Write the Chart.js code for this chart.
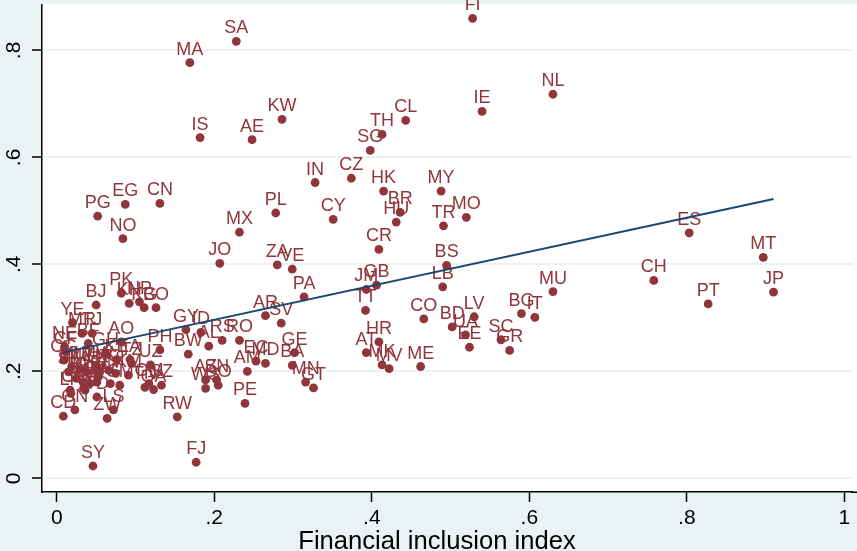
<!DOCTYPE html>
<html>
<head>
<meta charset="utf-8">
<script src="https://cdn.jsdelivr.net/npm/chart.js@4/dist/chart.umd.min.js"></script>
<style>
  html, body { margin: 0; padding: 0; background: #eaf2f3; }
  #wrap { width: 857px; height: 551px; }
</style>
</head>
<body>
<div id="wrap"><canvas id="c" width="857" height="551"></canvas></div>
<script>
// Country codes with financial inclusion index (x) and outcome (y)
const countries = ["FI","SA","MA","NL","IE","KW","CL","TH","IS","AE","SG","CZ","IN","HK","MY","CN","EG","BR","PL","PG",
  "MO","CY","HU","TR","MX","ES","NO","CR","MT","JO","ZA","BS","VE","CH","GB","LB","JM","MU","JP","PK",
  "PA","NP","KH","PT","BJ","KG","BO","TT","BG","AR","LV","IT","CO","YE","SV","BD","GY","ID","MR","TJ",
  "UA","SC","RS","RO","HR","AO","BF","AL","NE","EE","PH","GR","CF","GE","AT","GH","BW","KE","CG","LA",
  "EC","TZ","MD","MK","UZ","BA","ME","MW","ML","MZ","MV","NG","HT","AM","SL","MG","NI","KM","BI","TG",
  "AZ","SN","MN","UG","ET","GM","MM","AF","SZ","DO","CM","TN","GT","WS","ZM","GA","SD","CI","LR","TD",
  "PE","LS","GN","CD","RW","ZW","FJ","SY"];
const inclusion = [0.528,0.228,0.169,0.630,0.540,0.286,0.443,0.413,0.182,0.248,0.398,0.374,0.328,0.415,0.488,0.131,0.087,0.436,0.278,0.052,
  0.520,0.351,0.431,0.491,0.232,0.803,0.084,0.409,0.897,0.207,0.280,0.495,0.299,0.758,0.406,0.490,0.393,0.630,0.910,0.082,
  0.314,0.105,0.092,0.827,0.050,0.111,0.126,0.392,0.590,0.265,0.530,0.607,0.466,0.020,0.285,0.502,0.164,0.183,0.032,0.045,
  0.519,0.564,0.210,0.232,0.409,0.082,0.040,0.193,0.010,0.524,0.131,0.575,0.011,0.302,0.393,0.062,0.167,0.076,0.009,0.093,
  0.253,0.095,0.265,0.413,0.119,0.299,0.462,0.051,0.019,0.030,0.422,0.066,0.053,0.242,0.015,0.038,0.075,0.091,0.053,0.025,
  0.189,0.203,0.316,0.034,0.051,0.117,0.042,0.068,0.133,0.205,0.080,0.112,0.326,0.189,0.034,0.123,0.036,0.017,0.018,0.051,
  0.239,0.072,0.023,0.0084,0.153,0.064,0.177,0.046];
const outcome = [0.860,0.817,0.777,0.718,0.686,0.671,0.669,0.643,0.637,0.633,0.613,0.561,0.553,0.537,0.537,0.514,0.512,0.497,0.496,0.490,
  0.488,0.484,0.479,0.472,0.460,0.459,0.448,0.428,0.413,0.402,0.399,0.398,0.391,0.370,0.361,0.358,0.353,0.349,0.348,0.346,
  0.339,0.330,0.327,0.326,0.324,0.319,0.319,0.314,0.308,0.304,0.302,0.301,0.298,0.291,0.290,0.283,0.278,0.273,0.271,0.271,
  0.268,0.259,0.258,0.258,0.255,0.255,0.252,0.247,0.246,0.245,0.240,0.239,0.237,0.235,0.235,0.234,0.232,0.222,0.221,0.222,
  0.219,0.215,0.215,0.212,0.212,0.211,0.209,0.209,0.209,0.205,0.205,0.202,0.202,0.200,0.199,0.199,0.196,0.193,0.190,0.187,
  0.184,0.184,0.180,0.180,0.180,0.177,0.177,0.177,0.174,0.174,0.174,0.170,0.169,0.168,0.168,0.166,0.165,0.165,0.159,0.152,
  0.140,0.128,0.128,0.116,0.115,0.112,0.030,0.023];

// Linear fit, drawn over the observed range of the index
const fitLine = [{ x: 0.0084, y: 0.2354 }, { x: 0.910, y: 0.522 }];

const xTicks = [0, 0.2, 0.4, 0.6, 0.8, 1];
const yTicks = [0, 0.2, 0.4, 0.6, 0.8];
const xTitle = "Financial inclusion index";

const MAROON = "#90353b";
const NAVY = "#1a476f";
const BG = "#eaf2f3";
const FONT = '"Liberation Sans", Arial, sans-serif';

function fmtTick(v) {
  if (v === 0) return "0";
  if (v === 1) return "1";
  return String(+v.toFixed(1)).replace(/^0/, "");
}

const points = inclusion.map((x, i) => ({ x: x, y: outcome[i] }));

// Outer region tint, white plot region running to the right edge
const backdrop = {
  id: "backdrop",
  beforeDraw(chart) {
    const { ctx, chartArea: a } = chart;
    ctx.save();
    ctx.fillStyle = BG;
    ctx.fillRect(0, 0, chart.width, chart.height);
    ctx.fillStyle = "#ffffff";
    ctx.fillRect(a.left, a.top, chart.width - a.left, a.bottom - a.top);
    ctx.restore();
  },
  afterDraw(chart) {
    // carry the x axis line on to the right edge
    const { ctx, chartArea: a } = chart;
    const yb = Math.round(a.bottom) + 0.25;
    ctx.save();
    ctx.strokeStyle = "#000";
    ctx.lineWidth = 1.5;
    ctx.beginPath();
    ctx.moveTo(a.right - 1, yb);
    ctx.lineTo(chart.width, yb);
    ctx.stroke();
    ctx.restore();
  }
};

// Marker labels sit above each point, drawn right after the scatter layer
const markerLabels = {
  id: "markerLabels",
  afterDatasetDraw(chart, args) {
    if (args.index !== 1) return;
    const { ctx } = chart;
    ctx.save();
    ctx.font = "18px " + FONT;
    ctx.fillStyle = MAROON;
    ctx.textAlign = "center";
    ctx.textBaseline = "alphabetic";
    args.meta.data.forEach((el, i) => {
      ctx.fillText(countries[i], el.x, el.y - 8);
    });
    ctx.restore();
  }
};

// Rotated y tick labels and the x axis title
const axisText = {
  id: "axisText",
  afterDraw(chart) {
    const { ctx } = chart;
    const ys = chart.scales.y;
    ctx.save();
    ctx.fillStyle = "#000";
    ctx.font = "21px " + FONT;
    ctx.textAlign = "center";
    ctx.textBaseline = "middle";
    yTicks.forEach(v => {
      ctx.save();
      ctx.translate(14, ys.getPixelForValue(v));
      ctx.rotate(-Math.PI / 2);
      ctx.fillText(fmtTick(v), 0, 0);
      ctx.restore();
    });
    ctx.font = "25.6px " + FONT;
    ctx.textBaseline = "alphabetic";
    ctx.fillText(xTitle, 437, 549);
    ctx.restore();
  }
};

new Chart(document.getElementById("c"), {
  type: "scatter",
  data: {
    datasets: [
      {
        type: "line",
        data: fitLine,
        borderColor: NAVY,
        borderWidth: 2,
        pointRadius: 0,
        fill: false,
        tension: 0
      },
      {
        data: points,
        backgroundColor: MAROON,
        borderWidth: 0,
        pointRadius: 4.4,
        pointHoverRadius: 4.4
      }
    ]
  },
  options: {
    responsive: false,
    animation: false,
    events: [],
    layout: { padding: { top: 4, left: 0, right: 0, bottom: 0 } },
    plugins: { legend: { display: false }, tooltip: { enabled: false } },
    scales: {
      x: {
        type: "linear",
        min: -0.0187,
        max: 1.0104,
        afterBuildTicks(s) { s.ticks = xTicks.map(v => ({ value: v })); },
        afterFit(s) { s.height = 59; },
        grid: { drawOnChartArea: false, drawTicks: true, tickLength: 10, tickColor: "#000", tickWidth: 1.5 },
        border: { display: true, color: "#000", width: 1.5 },
        ticks: {
          color: "#000",
          font: { family: FONT, size: 21 },
          padding: 4,
          maxRotation: 0,
          autoSkip: false,
          callback: v => fmtTick(v)
        }
      },
      y: {
        type: "linear",
        min: -0.0256,
        max: 0.886,
        afterBuildTicks(s) { s.ticks = yTicks.map(v => ({ value: v })); },
        afterFit(s) { s.width = 42; },
        grid: { color: BG, lineWidth: 2, drawTicks: true, tickLength: 10, tickColor: "#000", tickWidth: 1.5 },
        border: { display: true, color: "#000", width: 1.5 },
        ticks: { display: false }
      }
    }
  },
  plugins: [backdrop, markerLabels, axisText]
});
</script>
</body>
</html>
